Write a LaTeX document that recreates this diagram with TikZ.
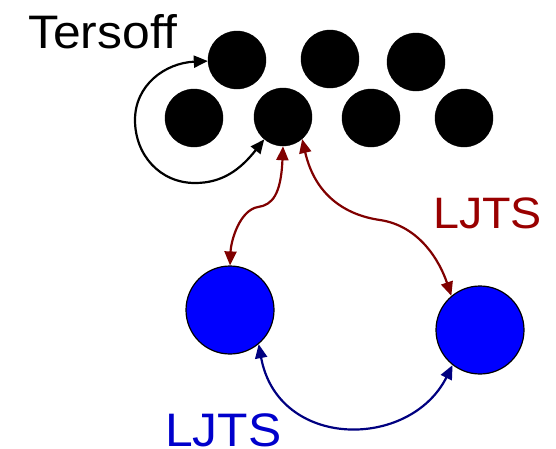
\documentclass[tikz,border=0pt]{standalone}
\usepackage{fontspec}
\setmainfont{Liberation Sans}
\newfontfamily\widesans[FakeStretch=1.06]{Liberation Sans}
\usetikzlibrary{arrows.meta}
\definecolor{dred}{HTML}{800000}
\definecolor{tred}{HTML}{990000}
\definecolor{dnavy}{HTML}{000080}
\definecolor{tblue}{HTML}{0000CC}
\tikzset{
  atom/.style={circle,fill=black,draw=black,minimum size=58pt,inner sep=0pt},
  ljatom/.style={circle,fill=blue,draw=black,line width=1.2pt,minimum size=88pt,inner sep=0pt},
  link/.style={line width=2.2pt,{Triangle[length=14pt,width=12pt]}-{Triangle[length=14pt,width=12pt]}},
  lbl/.style={anchor=base west,inner sep=0pt}
}
\begin{document}
\begin{tikzpicture}[x=1pt,y=-1pt]
\useasboundingbox (0,0) rectangle (556,448);
\node[atom] (t1) at (237,60) {};
\node[atom] (t2) at (330,59) {};
\node[atom] (t3) at (416,62) {};
\node[atom] (b1) at (194,118) {};
\node[atom] (b2) at (283,117) {};
\node[atom] (b3) at (371,118) {};
\node[atom] (b4) at (464,118) {};
\node[ljatom] (l1) at (230,310) {};
\node[ljatom] (l2) at (480,330) {};
\node[lbl,font=\widesans\fontsize{47}{50}\selectfont] (ter) at (28,48) {Tersoff};
\node[lbl,text=tred,font=\widesans\fontsize{44}{48}\selectfont] (ljr) at (433,228) {LJTS};
\node[lbl,text=tblue,font=\widesans\fontsize{47}{50}\selectfont] (ljb) at (165,446) {LJTS};
\draw[link,black] (b2.230) .. controls (240,170) and (222,183) .. (195,183)
  .. controls (160,183) and (135,155) .. (135,120)
  .. controls (135,85) and (165,63) .. (t1.182);
\draw[link,dred] (b2.south) .. controls (281,195) and (272,205) .. (258,207)
  .. controls (240,210) and (231,240) .. (l1.north);
\draw[link,dred] (b2.311) .. controls (315,195) and (345,215) .. (380,220)
  .. controls (420,226) and (440,262) .. (l2.130);
\draw[link,dnavy] (l1.310) .. controls (278,450) and (410,450) .. (l2.232);
\end{tikzpicture}
\end{document}
